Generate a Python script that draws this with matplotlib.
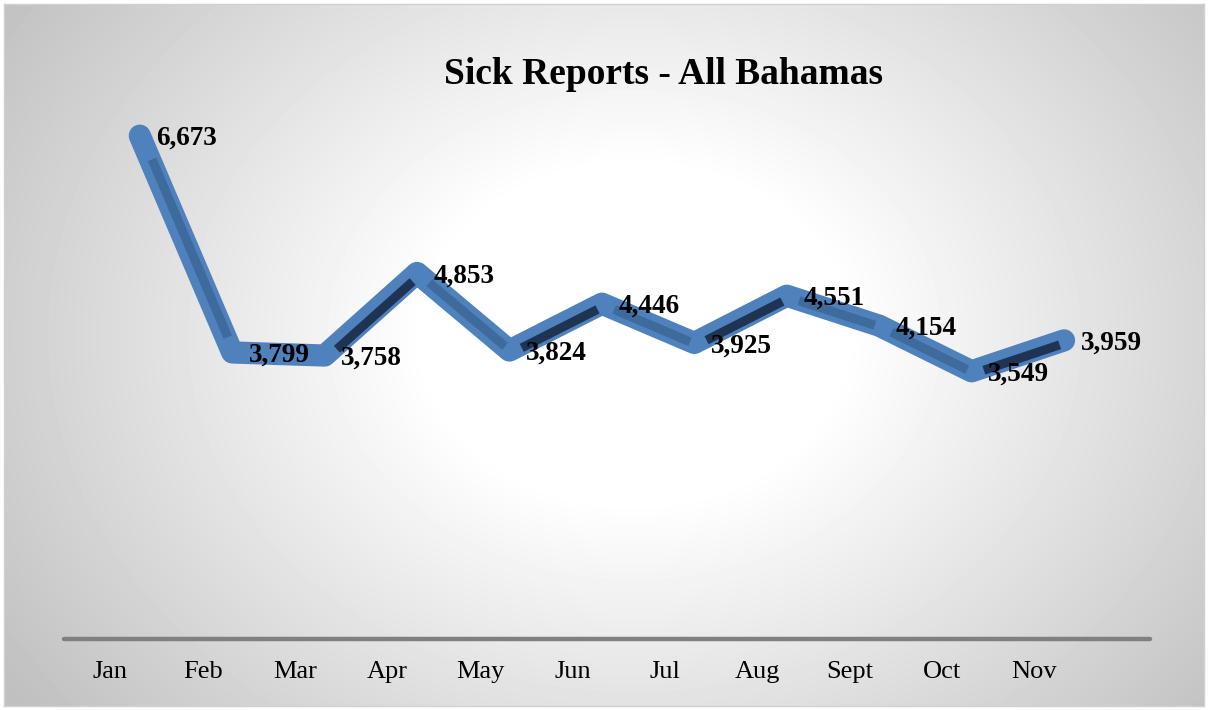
import numpy as np
import matplotlib.pyplot as plt
from matplotlib import transforms

# monthly sick reports
months = ['Jan', 'Feb', 'Mar', 'Apr', 'May', 'Jun', 'Jul', 'Aug', 'Sept', 'Oct', 'Nov']
reports = [6673, 3799, 3758, 4853, 3824, 4446, 3925, 4551, 4154, 3549, 3959]

plt.rcParams['font.family'] = ['Liberation Serif', 'DejaVu Serif']

fig = plt.figure(figsize=(12.08, 7.10), dpi=100)
W, H = 1208, 710

# radial grey gradient panel with thin border
bg = fig.add_axes([4 / W, 4 / H, 1200 / W, 702 / H])
yy, xx = np.mgrid[0:702, 0:1200]
r = np.sqrt(((xx - 630) / 700.0) ** 2 + ((yy - 330) / 560.0) ** 2)
shade = 1.0 - 0.25 * np.clip((r - 0.3) / 0.8, 0, 1) ** 1.0
bg.imshow(shade, cmap='gray', vmin=0, vmax=1, aspect='auto', interpolation='bilinear')
bg.set_xticks([])
bg.set_yticks([])
for s in bg.spines.values():
    s.set_color('#d0d0d0')
    s.set_linewidth(1)

ax = fig.add_axes([64 / W, 71 / H, 1086 / W, 528 / H])
ax.patch.set_alpha(0)
x = np.arange(len(months))
ax.set_xlim(-0.5, 11.25)
ax.set_ylim(0, 7000)

# 3d-style ribbon sits a little behind the category slot
shift = 0.32
xs = x + shift
ax.plot(xs, reports, color='#4f81bd', lw=16, solid_joinstyle='round',
        solid_capstyle='round', zorder=3)

inner = transforms.offset_copy(ax.transData, fig=fig, x=3, y=-2, units='dots')
for i in range(len(reports) - 1):
    dy = reports[i + 1] - reports[i]
    if abs(dy) < 100:
        continue
    col = '#1f3452' if dy > 0 else '#3e6a9c'
    t = np.array([0.1, 0.92])
    sx = xs[i] + t * (xs[i + 1] - xs[i])
    sy = reports[i] + t * dy
    ax.plot(sx, sy, color=col, lw=6.5, solid_capstyle='butt', transform=inner, zorder=4)

for xi, v in zip(xs, reports):
    ax.annotate(f'{v:,}', (xi, v), xytext=(12, -2), textcoords='offset points',
                ha='left', va='center', fontsize=19.5, fontweight='bold', zorder=5)

ax.set_xticks(x)
ax.set_xticklabels(months, fontsize=19)
ax.tick_params(axis='x', length=0, pad=16)
ax.set_yticks([])
for side in ['top', 'right', 'left']:
    ax.spines[side].set_visible(False)
ax.spines['bottom'].set_color('#808080')
ax.spines['bottom'].set_linewidth(3.2)
ax.spines['bottom'].set_capstyle('round')

fig.text(663 / W, 1 - 75 / H, 'Sick Reports - All Bahamas', ha='center', va='center',
         fontsize=27, fontweight='bold')

fig.savefig('out.png', dpi=100, facecolor='white')
